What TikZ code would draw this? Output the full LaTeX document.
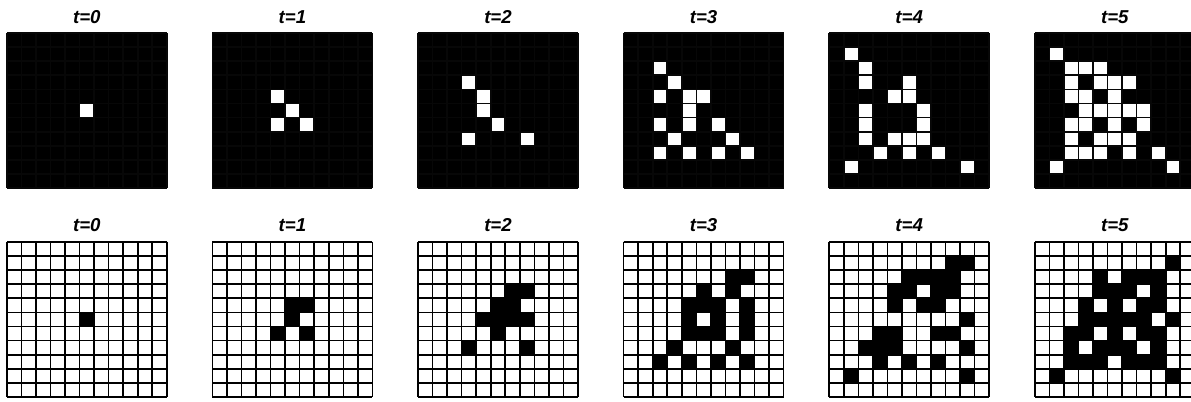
\documentclass[tikz,border=0pt]{standalone}
\usepackage{fontspec}
\setsansfont{Liberation Sans}
\usetikzlibrary{positioning}
\definecolor{cellline}{HTML}{070707}
\tikzset{
  toppanel/.style={rectangle, fill=black, inner sep=0pt, outer sep=0pt,
    minimum width=120pt, minimum height=116.6pt},
  botpanel/.style={rectangle, fill=white, inner sep=0pt, outer sep=0pt,
    minimum width=120pt, minimum height=116.6pt},
  steplabel/.style={font=\fontsize{14}{16}\selectfont\sffamily\bfseries\itshape,
    inner sep=0pt, outer sep=0pt},
  gridline/.style={draw=#1, line width=1.2pt},
  gridline/.default=black,
}
\def\cellw{10.909pt}
\def\cellh{10.6pt}
% fill the listed cells (row/col, counted from the top left) of a panel
\newcommand{\markcells}[3]{%
  \foreach \r/\c in {#3} {
    \fill[#1] ([xshift=\c*\cellw, yshift=-\r*\cellh]#2.north west) rectangle ++(\cellw,-\cellh);
  }}
% 11 x 11 grid over a panel
\newcommand{\cellgrid}[2]{%
  \foreach \i in {0,...,11} {
    \draw[gridline=#2] ([xshift=\i*\cellw]#1.north west) -- ([xshift=\i*\cellw]#1.south west);
    \draw[gridline=#2] ([yshift=-\i*\cellh]#1.north west) -- ([yshift=-\i*\cellh]#1.north east);
  }}
\begin{document}
\begin{tikzpicture}
  \useasboundingbox (0,0) rectangle (893.25pt,300.75pt);

  % panels and their titles
  \foreach \k in {0,...,5} {
    \node[toppanel] (top\k) at (65.1pt+\k*154.2pt, 217.84pt) {};
    \node[botpanel] (bot\k) at (65.1pt+\k*154.2pt, 61.16pt) {};
    \node[steplabel, above=7.1pt of top\k] (ltop\k) {t=\k};
    \node[steplabel, above=7.5pt of bot\k] (lbot\k) {t=\k};
  }

  % top row: white cells on black
  \markcells{white}{top0}{5/5}
  \markcells{white}{top1}{4/4,5/5,6/4,6/6}
  \markcells{white}{top2}{3/3,4/4,5/4,6/5,7/3,7/7}
  \markcells{white}{top3}{2/2,3/3,4/2,4/4,4/5,5/4,6/2,6/4,6/6,7/3,7/7,8/2,8/4,8/6,8/8}
  \markcells{white}{top4}{1/1,2/2,3/2,3/5,4/4,4/5,5/2,5/6,6/2,6/6,7/2,7/4,7/5,7/6,
    8/3,8/5,8/7,9/1,9/9}
  \markcells{white}{top5}{1/1,2/2,2/3,2/4,3/2,3/4,3/5,3/6,4/2,4/3,4/5,5/3,5/4,5/5,5/6,5/7,
    6/2,6/3,6/5,6/7,7/2,7/4,7/5,7/6,8/2,8/3,8/4,8/6,8/8,9/1,9/9}

  % bottom row: black cells on white
  \markcells{black}{bot0}{5/5}
  \markcells{black}{bot1}{4/5,4/6,5/5,6/4,6/6}
  \markcells{black}{bot2}{3/6,3/7,4/5,4/6,5/4,5/5,5/6,5/7,6/5,7/3,7/7}
  \markcells{black}{bot3}{2/7,2/8,3/5,3/7,4/4,4/5,4/6,4/8,5/4,5/6,5/8,6/4,6/5,6/6,6/8,
    7/3,7/7,8/2,8/4,8/6,8/8}
  \markcells{black}{bot4}{1/8,1/9,2/5,2/6,2/7,2/8,3/4,3/5,3/7,3/8,4/4,4/6,4/7,5/9,
    6/3,6/4,6/7,6/8,7/2,7/3,7/4,7/9,8/3,8/5,8/7,9/1,9/9}
  \markcells{black}{bot5}{1/9,2/4,2/6,2/7,2/8,3/4,3/5,3/6,3/8,4/3,4/5,4/7,4/8,
    5/3,5/4,5/5,5/6,5/7,5/9,6/2,6/3,6/5,6/7,6/8,7/2,7/4,7/5,7/6,7/8,
    8/2,8/3,8/4,8/6,8/7,8/8,9/1,9/9}

  % grid lines
  \foreach \k in {0,...,5} {
    \cellgrid{top\k}{cellline}
    \cellgrid{bot\k}{black}
  }
\end{tikzpicture}
\end{document}
